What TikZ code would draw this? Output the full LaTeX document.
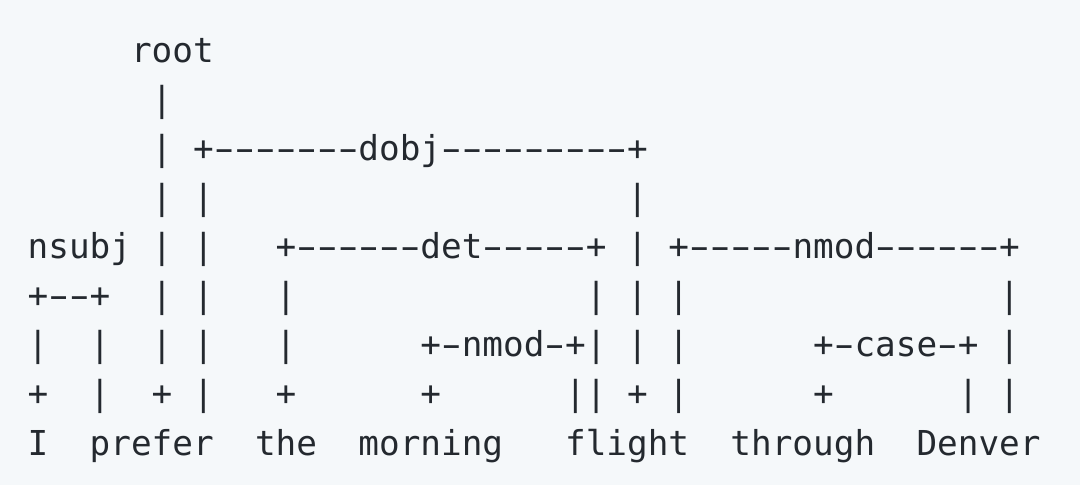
\documentclass[tikz,border=0pt]{standalone}
\usepackage{fontspec}
\usepackage{graphicx}
\setmonofont{DejaVu Sans Mono}
\definecolor{bg}{HTML}{F5F8FA}
\definecolor{ink}{HTML}{24292F}
\tikzset{asc/.style={inner sep=0pt, outer sep=0pt, anchor=base west, text=ink,
  font=\ttfamily\fontsize{17.166pt}{20pt}\selectfont}}
\newcommand\dsh{\makebox[10.335pt][c]{\scalebox{1.7}[1]{-}}}
{\catcode`\-=\active \gdef-{\dsh}}
\newcommand\ascii[2]{\begingroup\catcode`\-=\active\asciiaux{#1}{#2}}
\newcommand\asciiaux[3]{\node[asc] (r#1c#2) at ({13.85+#2*10.335},{-31.5-#1*24.5}) {#3};\endgroup}
\begin{document}
\begin{tikzpicture}[x=1pt,y=1pt]
\fill[bg] (0,0) rectangle (540,-242.5);
\useasboundingbox (0,0) rectangle (540,-242.5);
% row 0
\ascii{0}{5}{root}
% row 1
\ascii{1}{6}{|}
% row 2
\ascii{2}{6}{|}
\ascii{2}{8}{+-------dobj---------+}
% row 3
\ascii{3}{6}{|}
\ascii{3}{8}{|}
\ascii{3}{29}{|}
% row 4
\ascii{4}{0}{nsubj}
\ascii{4}{6}{|}
\ascii{4}{8}{|}
\ascii{4}{12}{+------det-----+}
\ascii{4}{29}{|}
\ascii{4}{31}{+-----nmod------+}
% row 5
\ascii{5}{0}{+--+}
\ascii{5}{6}{|}
\ascii{5}{8}{|}
\ascii{5}{12}{|}
\ascii{5}{27}{|}
\ascii{5}{29}{|}
\ascii{5}{31}{|}
\ascii{5}{47}{|}
% row 6
\ascii{6}{0}{|}
\ascii{6}{3}{|}
\ascii{6}{6}{|}
\ascii{6}{8}{|}
\ascii{6}{12}{|}
\ascii{6}{19}{+-nmod-+|}
\ascii{6}{29}{|}
\ascii{6}{31}{|}
\ascii{6}{38}{+-case-+}
\ascii{6}{47}{|}
% row 7
\ascii{7}{0}{+}
\ascii{7}{3}{|}
\ascii{7}{6}{+}
\ascii{7}{8}{|}
\ascii{7}{12}{+}
\ascii{7}{19}{+}
\ascii{7}{26}{||}
\ascii{7}{29}{+}
\ascii{7}{31}{|}
\ascii{7}{38}{+}
\ascii{7}{45}{|}
\ascii{7}{47}{|}
% row 8
\ascii{8}{0}{I}
\ascii{8}{3}{prefer}
\ascii{8}{11}{the}
\ascii{8}{16}{morning}
\ascii{8}{26}{flight}
\ascii{8}{34}{through}
\ascii{8}{43}{Denver}
\end{tikzpicture}
\end{document}
